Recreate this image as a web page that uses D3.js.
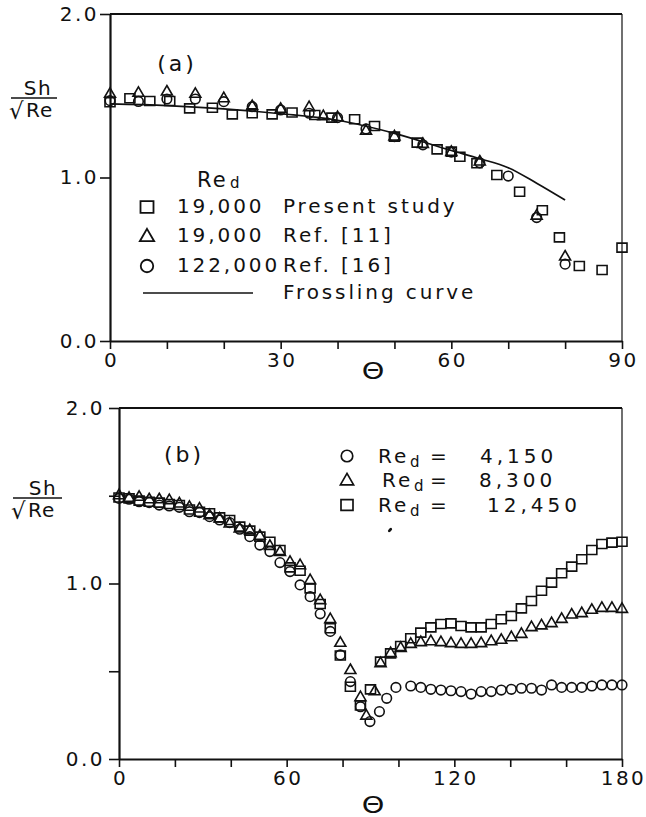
<!DOCTYPE html>
<html>
<head>
<meta charset="utf-8">
<script src="https://cdn.jsdelivr.net/npm/d3@7"></script>
<style>
  html, body { margin: 0; padding: 0; background: #fff; }
  svg { display: block; }
  text { font-family: "DejaVu Sans", sans-serif; fill: #111; }
</style>
</head>
<body>
<svg id="chart" width="646" height="817"></svg>
<script>
// ---------- Panel (a): Sh/sqrt(Re) vs angle, 0-90 deg ----------
const aXTicks = [0, 10, 20, 30, 40, 50, 60, 70, 80, 90];
const aXLabels = [0, 30, 60, 90];
const aYTicks = [0, 1, 2];
const aYLabels = [0, 1, 2];

// Present study, Re_d = 19,000 (squares)
const aSquareTheta = [0, 3.5, 7, 10.5, 14, 18, 21.5, 25, 28.5, 32, 36, 39, 43, 46.5, 50, 54, 57.5, 60, 61.5, 64.5, 68, 72, 76, 79, 82.5, 86.5, 90];
const aSquareVal   = [1.46, 1.485, 1.468, 1.468, 1.423, 1.427, 1.386, 1.393, 1.386, 1.398, 1.382, 1.366, 1.356, 1.315, 1.25, 1.213, 1.172, 1.158, 1.127, 1.087, 1.015, 0.913, 0.80, 0.634, 0.459, 0.434, 0.571];

// Ref. [11], Re_d = 19,000 (triangles)
const aTriTheta = [0, 5, 10, 15, 20, 25, 30, 35, 37.5, 40, 45, 50, 55, 60, 65, 75, 80];
const aTriVal   = [1.515, 1.521, 1.529, 1.515, 1.488, 1.44, 1.423, 1.433, 1.378, 1.372, 1.29, 1.254, 1.209, 1.16, 1.101, 0.77, 0.52];

// Ref. [16], Re_d = 122,000 (circles)
const aCircTheta = [0, 5, 10, 15, 20, 25, 30, 35, 40, 45, 50, 55, 60, 65, 70, 75, 80];
const aCircVal   = [1.47, 1.465, 1.48, 1.48, 1.464, 1.433, 1.413, 1.393, 1.366, 1.297, 1.25, 1.20, 1.155, 1.09, 1.009, 0.755, 0.47];

// Frossling curve
const aCurveTheta = [0, 10, 20, 30, 40, 50, 60, 65, 70, 75, 80];
const aCurveVal   = [1.45, 1.44, 1.42, 1.39, 1.35, 1.27, 1.165, 1.115, 1.06, 0.965, 0.862];

// ---------- Panel (b): Sh/sqrt(Re) vs angle, 0-180 deg ----------
const bXTicks = [0, 20, 40, 60, 80, 100, 120, 140, 160, 180];
const bXLabels = [0, 60, 120, 180];
const bYTicks = [0, 0.5, 1, 1.5, 2];
const bYLabels = [0, 1, 2];

// Re_d = 4,150 (circles)
const bCircTheta = [0, 3.6, 7.2, 10.8, 14.4, 18, 21.6, 25.2, 28.8, 32.4, 36, 39.6, 43.2, 46.8, 50.4, 54, 57.6, 61.2, 64.8, 68.4, 72, 75.6, 79.2, 82.8, 86.4,
                    89.8, 93.2, 95.8, 99.1,
                    104.4, 108, 111.6, 115.2, 118.8, 122.4, 126, 129.6, 133.2, 136.8, 140.4, 144, 147.6, 151.2, 154.8, 158.4, 162, 165.6, 169.2, 172.8, 176.4, 180];
const bCircVal   = [1.485, 1.480, 1.466, 1.461, 1.447, 1.442, 1.434, 1.409, 1.404, 1.381, 1.362, 1.347, 1.309, 1.267, 1.219, 1.182, 1.119, 1.068, 0.992, 0.925, 0.827, 0.727, 0.593, 0.441, 0.298,
                    0.213, 0.27, 0.346, 0.408,
                    0.416, 0.408, 0.397, 0.393, 0.389, 0.384, 0.370, 0.384, 0.384, 0.393, 0.397, 0.403, 0.403, 0.393, 0.422, 0.408, 0.408, 0.408, 0.416, 0.422, 0.422, 0.422];

// Re_d = 8,300 (triangles)
const bTriTheta = [0, 3.6, 7.2, 10.8, 14.4, 18, 21.6, 25.2, 28.8, 32.4, 36, 39.6, 43.2, 46.8, 50.4, 54, 57.6, 61.2, 64.8, 68.4, 72, 75.6, 79.2, 82.8, 86.4,
                   88.5, 91.5,
                   93.6, 97.2, 100.8, 104.4, 108, 111.6, 115.2, 118.8, 122.4, 126, 129.6, 133.2, 136.8, 140.4, 144, 147.6, 151.2, 154.8, 158.4, 162, 165.6, 169.2, 172.8, 176.4, 180];
const bTriVal   = [1.506, 1.491, 1.497, 1.483, 1.483, 1.478, 1.459, 1.440, 1.430, 1.392, 1.373, 1.345, 1.316, 1.307, 1.275, 1.217, 1.183, 1.126, 1.107, 1.022, 0.908, 0.80, 0.665, 0.51, 0.355,
                   0.25, 0.389,
                   0.549, 0.606, 0.636, 0.659, 0.669, 0.674, 0.669, 0.663, 0.659, 0.659, 0.663, 0.674, 0.682, 0.697, 0.716, 0.754, 0.764, 0.777, 0.801, 0.826, 0.834, 0.853, 0.864, 0.864, 0.858];

// Re_d = 12,450 (squares)
const bSqTheta = [0, 3.6, 7.2, 10.8, 14.4, 18, 21.6, 25.2, 28.8, 32.4, 36, 39.6, 43.2, 46.8, 50.4, 54, 57.6, 61.2, 64.8, 68.4, 72, 75.6, 79.2, 82.8, 86.4,
                  90, 93.6, 97.2, 100.8, 104.4, 108, 111.6, 115.2, 118.8, 122.4, 126, 129.6, 133.2, 136.8, 140.4, 144, 147.6, 151.2, 154.8, 158.4, 162, 165.6, 169.2, 172.8, 176.4, 180];
const bSqVal   = [1.49, 1.485, 1.472, 1.466, 1.461, 1.453, 1.447, 1.422, 1.409, 1.400, 1.377, 1.362, 1.324, 1.301, 1.267, 1.238, 1.191, 1.092, 1.073, 0.972, 0.883, 0.745, 0.59, 0.412, 0.305,
                  0.397, 0.555, 0.602, 0.644, 0.688, 0.72, 0.750, 0.769, 0.773, 0.758, 0.75, 0.75, 0.769, 0.796, 0.815, 0.858, 0.90, 0.959, 1.005, 1.058, 1.096, 1.138, 1.191, 1.225, 1.233, 1.238];

const aLegendNums  = ["19,000", "19,000", "122,000"];
const aLegendNotes = ["Present study", "Ref. [11]", "Ref. [16]", "Frossling curve"];
const bLegendNums  = ["4,150", "8,300", "12,450"];

// ---------- drawing ----------
const INK = "#111";
const svg = d3.select("#chart");

const shapes = {
  square:   "M-5,-4.5H5V4.5H-5Z",
  triangle: "M0,-5.5L5.5,4L-5.5,4Z",
  circle:   "M-4.8,0A4.8,4.8 0 1,0 4.8,0A4.8,4.8 0 1,0 -4.8,0Z"
};

function zip(xs, ys) { return xs.map((t, i) => ({ t, v: ys[i] })); }

function drawMarkers(g, data, shape, x, y, scale = 1) {
  g.append("g").selectAll("path").data(data).join("path")
    .attr("d", shapes[shape])
    .attr("transform", d => `translate(${x(d.t)},${y(d.v)}) scale(${scale})`)
    .attr("fill", "none")
    .attr("stroke", INK)
    .attr("stroke-width", 1.6);
}

function drawAxes(g, x, y, cfg) {
  const fmtY = d3.format(".1f");
  const xAxis = d3.axisBottom(x)
    .tickValues(cfg.xTicks).tickSize(8).tickSizeOuter(0).tickPadding(4)
    .tickFormat(d => cfg.xLabels.includes(d) ? String(d) : "");
  const yAxis = d3.axisLeft(y)
    .tickValues(cfg.yTicks).tickSize(10).tickSizeOuter(0).tickPadding(cfg.yPad)
    .tickFormat(d => cfg.yLabels.includes(d) ? fmtY(d) : "");

  const gx = g.append("g").attr("transform", `translate(0,${y(0)})`).call(xAxis);
  const gy = g.append("g").attr("transform", `translate(${x(0)},0)`).call(yAxis);
  [gx, gy].forEach(a => {
    a.select(".domain").attr("stroke", INK).attr("stroke-width", 2.2);
    a.selectAll(".tick line").attr("stroke", INK).attr("stroke-width", 1.6);
    a.selectAll(".tick text")
      .attr("fill", INK)
      .style("font-family", '"DejaVu Sans", sans-serif')
      .style("font-size", "20px")
      .style("letter-spacing", "2.5px");
  });
  gx.selectAll(".tick text").attr("dx", "1px");

  // frame: top and right edges
  const [x0, x1] = x.range();
  const [yb, yt] = y.range();
  g.append("line").attr("x1", x0).attr("x2", x1).attr("y1", yt).attr("y2", yt)
    .attr("stroke", INK).attr("stroke-width", 1.8);
  g.append("line").attr("x1", x1).attr("x2", x1).attr("y1", yt).attr("y2", yb)
    .attr("stroke", INK).attr("stroke-width", 1.2);
}

function drawYTitle(g, cx, barY, x0, x1) {
  g.append("text").attr("x", cx).attr("y", barY - 3).attr("text-anchor", "middle")
    .style("font-size", "20px").style("letter-spacing", "1.5px").text("Sh");
  g.append("line").attr("x1", x0).attr("x2", x1).attr("y1", barY).attr("y2", barY)
    .attr("stroke", INK).attr("stroke-width", 1.6);
  g.append("text").attr("x", x0 - 2).attr("y", barY + 21)
    .style("font-size", "23px").text("√");
  g.append("text").attr("x", x0 + 15).attr("y", barY + 19)
    .style("font-size", "20px").style("letter-spacing", "1px").text("Re");
}

// angle symbol under an x axis, widened to a round outline
function drawThetaTitle(g, cx, baseline) {
  g.append("text")
    .attr("transform", `translate(${cx},${baseline}) scale(1.25,1)`)
    .attr("text-anchor", "middle")
    .style("font-size", "23px").text("Θ");
}

// ----- panel (a) -----
const xA = d3.scaleLinear().domain([0, 90]).range([110, 622]);
const yA = d3.scaleLinear().domain([0, 2]).range([341, 14]);
const gA = svg.append("g");

drawAxes(gA, xA, yA, { xTicks: aXTicks, xLabels: aXLabels, yTicks: aYTicks, yLabels: aYLabels, yPad: 1 });

gA.append("path")
  .datum(zip(aCurveTheta, aCurveVal))
  .attr("d", d3.line().x(d => xA(d.t)).y(d => yA(d.v)).curve(d3.curveMonotoneX))
  .attr("fill", "none").attr("stroke", INK).attr("stroke-width", 1.7);

drawMarkers(gA, zip(aSquareTheta, aSquareVal), "square", xA, yA);
drawMarkers(gA, zip(aTriTheta, aTriVal), "triangle", xA, yA);
drawMarkers(gA, zip(aCircTheta, aCircVal), "circle", xA, yA);

gA.append("text").attr("x", 177).attr("y", 71).attr("text-anchor", "middle")
  .style("font-size", "22px").style("letter-spacing", "3px").text("(a)");
drawThetaTitle(gA, 373, 379);
drawYTitle(gA, 38, 98, 11, 57);

// legend (a)
const legA = gA.append("g");
legA.append("text").attr("x", 197).attr("y", 187).style("font-size", "21px").style("letter-spacing", "2px").text("Re");
legA.append("text").attr("x", 230).attr("y", 188).style("font-size", "15px").text("d");
const aRowY = [213, 242, 272, 299];
const aRowShapes = ["square", "triangle", "circle"];
aRowShapes.forEach((s, i) => {
  legA.append("path").attr("d", shapes[s])
    .attr("transform", `translate(147,${aRowY[i] - 6}) scale(1.3)`)
    .attr("fill", "none").attr("stroke", INK).attr("stroke-width", 1.4);
  legA.append("text").attr("x", 177).attr("y", aRowY[i])
    .style("font-size", "20px").style("letter-spacing", "2.9px").text(aLegendNums[i]);
});
aLegendNotes.forEach((t, i) => {
  legA.append("text").attr("x", 283).attr("y", aRowY[i])
    .style("font-size", "20px").style("letter-spacing", "2.9px").text(t);
});
legA.append("line").attr("x1", 143).attr("x2", 253).attr("y1", 293).attr("y2", 293)
  .attr("stroke", INK).attr("stroke-width", 1.7);

// ----- panel (b) -----
const xB = d3.scaleLinear().domain([0, 180]).range([119, 622]);
const yB = d3.scaleLinear().domain([0, 2]).range([759, 408]);
const gB = svg.append("g");

drawAxes(gB, xB, yB, { xTicks: bXTicks, xLabels: bXLabels, yTicks: bYTicks, yLabels: bYLabels, yPad: 4 });

drawMarkers(gB, zip(bCircTheta, bCircVal), "circle", xB, yB);
drawMarkers(gB, zip(bTriTheta, bTriVal), "triangle", xB, yB);
drawMarkers(gB, zip(bSqTheta, bSqVal), "square", xB, yB);

gB.append("text").attr("x", 184).attr("y", 462).attr("text-anchor", "middle")
  .style("font-size", "22px").style("letter-spacing", "3px").text("(b)");
drawThetaTitle(gB, 373, 813);
drawYTitle(gB, 43, 498, 13, 62);

// legend (b)
const legB = gB.append("g");
const bRowY = [463, 487, 512];
const bRowShapes = ["circle", "triangle", "square"];
const bReX = [378, 382, 378];
const bNumX = [480, 479, 487];
bRowShapes.forEach((s, i) => {
  legB.append("path").attr("d", shapes[s])
    .attr("transform", `translate(347,${bRowY[i] - 7}) scale(1.2)`)
    .attr("fill", "none").attr("stroke", INK).attr("stroke-width", 1.4);
  legB.append("text").attr("x", bReX[i]).attr("y", bRowY[i])
    .style("font-size", "20px").style("letter-spacing", "3px").text("Re");
  legB.append("text").attr("x", bReX[i] + 32).attr("y", bRowY[i] + 4).style("font-size", "15px").text("d");
  legB.append("text").attr("x", 430).attr("y", bRowY[i]).style("font-size", "20px").text("=");
  legB.append("text").attr("x", bNumX[i]).attr("y", bRowY[i])
    .style("font-size", "20px").style("letter-spacing", "4px").text(bLegendNums[i]);
});

// small ink speck inside panel (b)
gB.append("ellipse").attr("cx", 390).attr("cy", 530).attr("rx", 2.6).attr("ry", 1.4)
  .attr("transform", "rotate(-45 390 530)").attr("fill", INK);
</script>
</body>
</html>
